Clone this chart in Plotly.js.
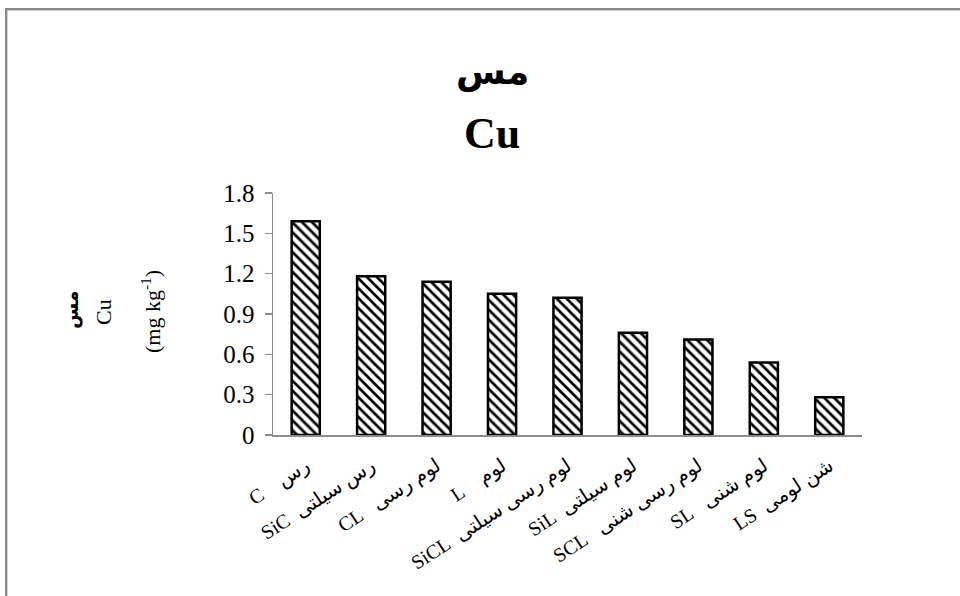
<!DOCTYPE html>
<html>
<head>
<meta charset="utf-8">
<script src="https://cdn.plot.ly/plotly-3.0.1.min.js"></script>
<style>
html,body{margin:0;padding:0;background:#fff;overflow:hidden;}
#chart{position:absolute;left:0;top:0;width:960px;height:596px;}
#frame{position:absolute;left:5px;top:8px;width:1000px;height:1000px;border-left:2px solid #8a8a8a;border-top:2px solid #8a8a8a;box-shadow:inset 1px 1px 0 #cfcfcf;pointer-events:none;}
</style>
</head>
<body>
<div id="chart"></div>
<div id="frame"></div>
<script>
const categories = ["C\u00A0\u00A0\u00A0\u00A0رس", "SiC\u00A0\u00A0رس سیلتی", "CL\u00A0\u00A0\u00A0لوم رسی", "L\u00A0\u00A0\u00A0\u00A0لوم", "SiCL\u00A0\u00A0لوم رسی سیلتی", "SiL\u00A0\u00A0لوم سیلتی", "SCL\u00A0\u00A0\u00A0لوم رسی شنی", "SL\u00A0\u00A0\u00A0لوم شنی", "LS\u00A0\u00A0شن لومی"];
const cuValues = [1.59, 1.18, 1.14, 1.05, 1.02, 0.76, 0.71, 0.54, 0.28];
const yTicks = [0, 0.3, 0.6, 0.9, 1.2, 1.5, 1.8];
const yTickLabels = ["0", "0.3", "0.6", "0.9", "1.2", "1.5", "1.8"];

const serif = "Liberation Serif, Times New Roman, DejaVu Sans, serif";

const trace = {
  type: "bar",
  x: categories,
  y: cuValues,
  width: 0.43,
  marker: {
    color: "#ffffff",
    line: {color: "#000000", width: 2.5},
    pattern: {shape: "\\", fgcolor: "#000000", bgcolor: "#ffffff", size: 7, solidity: 0.38}
  },
  hoverinfo: "skip"
};

const layout = {
  width: 960, height: 596,
  margin: {l: 273, r: 98, t: 193, b: 161},
  paper_bgcolor: "#ffffff",
  plot_bgcolor: "#ffffff",
  showlegend: false,
  font: {family: serif, color: "#000000"},
  xaxis: {
    type: "category",
    showline: true, linecolor: "#8c8c8c", linewidth: 1.5,
    ticks: "", tickangle: -33,
    tickfont: {family: serif, size: 20, color: "#000"},
    ticklabelstandoff: 10,
    showgrid: false, zeroline: false,
    fixedrange: true
  },
  yaxis: {
    range: [0, 1.8],
    tickvals: yTicks, ticktext: yTickLabels,
    showline: true, linecolor: "#8c8c8c", linewidth: 1.5,
    ticks: "outside", ticklen: 7, tickcolor: "#8c8c8c", tickwidth: 1.5,
    tickfont: {family: serif, size: 25, color: "#000"},
    ticklabelstandoff: 5,
    showgrid: false, zeroline: false,
    fixedrange: true
  },
  annotations: [
    {text: "<b>مس</b>", xref: "paper", yref: "paper", x: (492-273)/589, y: (435-72)/242, showarrow: false, font: {family: serif, size: 36, color: "#000"}, xanchor: "center", yanchor: "middle"},
    {text: "<b>Cu</b>", xref: "paper", yref: "paper", x: (492-273)/589, y: (435-133)/242, showarrow: false, font: {family: serif, size: 44, color: "#000"}, xanchor: "center", yanchor: "middle"},
    {text: "<b>مس</b>", xref: "paper", yref: "paper", x: (72-273)/589, y: (435-310)/242, textangle: -90, showarrow: false, font: {family: serif, size: 19, color: "#000"}, xanchor: "center", yanchor: "middle"},
    {text: "Cu", xref: "paper", yref: "paper", x: (103-273)/589, y: (435-312)/242, textangle: -90, showarrow: false, font: {family: serif, size: 22, color: "#000"}, xanchor: "center", yanchor: "middle"},
    {text: "(mg kg<sup>-1</sup>)", xref: "paper", yref: "paper", x: (151-273)/589, y: (435-312)/242, textangle: -90, showarrow: false, font: {family: serif, size: 22, color: "#000"}, xanchor: "center", yanchor: "middle"}
  ]
};

Plotly.newPlot("chart", [trace], layout, {displayModeBar: false, staticPlot: true});
</script>
</body>
</html>
